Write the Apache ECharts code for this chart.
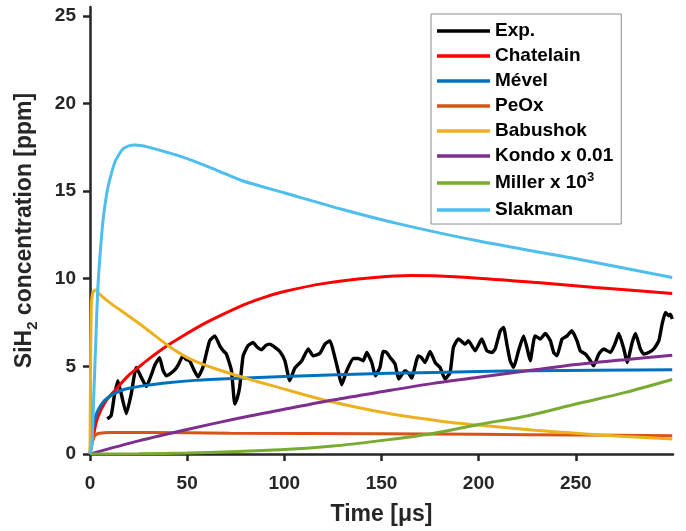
<!DOCTYPE html>
<html>
<head>
<meta charset="utf-8">
<script src="https://cdn.jsdelivr.net/npm/echarts@6/dist/echarts.min.js"></script>
<style>
html,body{margin:0;padding:0;background:#fff;}
#chart{width:686px;height:531px;}
</style>
</head>
<body>
<div id="chart"></div>
<script>
// ---- data (x = time in µs, y = SiH2 concentration in ppm) ----
const seriesNames = ['Exp.', 'Chatelain', 'Mével', 'PeOx', 'Babushok', 'Kondo x 0.01', 'Miller x 10^3', 'Slakman'];
const xTicks = [0, 50, 100, 150, 200, 250];
const yTicks = [0, 5, 10, 15, 20, 25];

const expData = [[8.9,2.0],[10.9,2.2],[12.5,3.3],[14.3,4.18],[16.1,3.42],[18.7,2.3],[21.2,3.42],[23.8,4.94],[26.4,4.37],[29,3.85],
 [31.5,4.5],[33.5,5.1],[35.8,5.5],[37.5,4.8],[39.3,4.46],[41.5,4.6],[43.6,4.8],[45.5,5.1],[47.8,5.6],[49.5,5.4],
 [51.3,5.3],[53.5,4.8],[55.6,4.4],[58.1,4.94],[60,5.8],[61.6,6.46],[64.2,6.74],[66.8,6.17],[68.5,5.9],[70.2,5.7],
 [72.8,4.75],[74.5,2.85],[75.8,3.2],[77,3.8],[78.8,5.6],[81.3,6.17],[83.9,6.36],[86,6.1],[88.2,5.95],[90.5,6.2],
 [92.5,6.27],[95,6.1],[97.7,5.85],[100.3,5.32],[102.8,4.18],[105.4,4.9],[108.9,5.3],[112.3,5.99],[114.8,5.6],[118.3,5.75],
 [120.9,6.27],[123.5,6.46],[126,5.51],[127.7,4.75],[129.5,3.95],[132.1,4.75],[135.5,5.45],[138.1,5.45],[140.6,5.32],[142.4,5.79],
 [145,5.22],[146.8,4.46],[149.2,4.94],[150.9,5.85],[152.5,5.8],[154.4,5.51],[157,5.13],[158.8,4.28],[162.1,4.75],[164,4.6],
 [165.5,4.33],[168.9,5.6],[170.5,5.5],[172.4,5.22],[175,5.85],[177.6,5.22],[180.1,4.94],[182.7,4.28],[185.3,4.65],[187,6.08],
 [189.6,6.56],[193,6.27],[194.7,6.46],[198.2,5.89],[201.6,6.56],[204.2,5.89],[206.8,5.79],[208.5,5.99],[211.1,7.03],[212.8,7.22],
 [214.5,6.27],[216.2,5.32],[218,4.94],[220.5,5.89],[223.1,6.74],[225,6.0],[226.5,5.32],[229,6.74],[231.7,6.56],[234.3,6.88],
 [236.9,6.46],[238.6,5.79],[240.3,5.6],[242.9,6.56],[245.5,6.74],[248,7.03],[250.6,6.46],[252.3,5.89],[254.9,5.7],[257.5,5.32],
 [259.2,5.03],[261.8,5.7],[264.3,5.99],[267.8,5.79],[270.4,6.36],[272.1,6.88],[274.7,5.99],[276.4,5.22],[279,6.36],[280.7,6.88],
 [283.2,5.99],[284.9,5.7],[287.5,5.79],[290.1,5.99],[292.7,6.46],[294.4,7.41],[296.1,8.07],[297.8,7.89],[298.7,7.98],[299.6,7.7]];

const chatelainData = [[0,0],[1,0.6],[2,1.2],[4,2.1],[8,3.0],[12.6,3.6],[20,4.5],[25,4.95],[30,5.4],[41,6.27],[50,6.88],[59,7.45],
 [70,8.05],[80,8.55],[90,8.95],[100,9.27],[120,9.72],[145,10.05],[165,10.18],[190,10.1],[230,9.78],[260,9.5],[299.6,9.16]];

const mevelData = [[0,0],[0.5,0.8],[1.4,1.5],[2.5,2.0],[4,2.47],[7,3.0],[11,3.35],[15,3.58],[20,3.75],[28,3.9],[40,4.07],[54,4.2],
 [80,4.33],[100,4.42],[154,4.6],[200,4.7],[229,4.75],[299.6,4.81]];

const peoxData = [[0,0],[0.5,0.3],[1,0.6],[2,0.95],[3,1.1],[5,1.18],[10,1.22],[30,1.22],[72,1.19],[150,1.15],[200,1.12],[250,1.08],[299.6,1.04]];

const babushokData = [[0,0],[0.3,5],[0.7,8.5],[1.2,9.1],[2,9.3],[3,9.35],[5,9.1],[10,8.65],[19.5,7.9],[28,7.22],[41,6.12],[50,5.5],
 [54,5.3],[63,4.92],[80,4.33],[103,3.61],[122,3.04],[153,2.33],[186,1.8],[200,1.65],[229,1.35],[250,1.18],[275,1.0],[299.6,0.86]];

const kondoData = [[0,0],[25,0.75],[50,1.4],[77,2.05],[100,2.55],[125,3.08],[150,3.55],[175,4.0],[200,4.38],[229,4.8],[250,5.1],[275,5.38],[299.6,5.63]];

const millerData = [[0,0],[25,0.01],[50,0.05],[72,0.13],[100,0.25],[125,0.45],[150,0.77],[175,1.14],[200,1.68],[226,2.2],[250,2.85],[275,3.5],[299.6,4.25]];

const slakmanData = [[0,0],[1,0.6],[2,3.5],[3,6.5],[4,9.4],[5,11.1],[6,12.5],[7,13.6],[9,15.1],[11,16.0],[13,16.7],[15,17.1],[17,17.4],
 [20,17.58],[23,17.63],[27,17.58],[31,17.48],[40,17.2],[50,16.85],[65,16.2],[78,15.6],[100,14.9],[130,13.95],[159,13.13],[200,12.15],[252,11.1],[299.6,10.07]];

const colors = ['#000000', '#FF0000', '#0072BD', '#D95319', '#EDB120', '#7E2F8E', '#77AC30', '#4DBEEE'];
const allData = [expData, chatelainData, mevelData, peoxData, babushokData, kondoData, millerData, slakmanData];

const axisColor = '#262626';
const font = '"Liberation Sans", Arial, Helvetica, sans-serif';

const chart = echarts.init(document.getElementById('chart'), null, {renderer: 'canvas'});

const series = seriesNames.map((name, i) => ({
  name: name,
  type: 'line',
  data: allData[i],
  showSymbol: false,
  symbol: 'none',
  smooth: i === 0 ? 0.15 : 0.3,
  lineStyle: {color: colors[i], width: i === 0 ? 3.4 : 3},
  itemStyle: {color: colors[i]},
  animation: false,
  z: 2 + i
}));

chart.setOption({
  animation: false,
  backgroundColor: '#ffffff',
  grid: {left: 90, right: 13, top: 7, bottom: 77, containLabel: false},
  xAxis: {
    type: 'value',
    min: 0, max: 300,
    name: 'Time [μs]',
    nameLocation: 'middle',
    nameGap: 49,
    nameTextStyle: {fontFamily: font, fontSize: 23, fontWeight: 'bold', color: axisColor},
    axisLine: {show: true, onZero: false, lineStyle: {color: axisColor, width: 2.5}},
    axisTick: {show: true, inside: false, length: 7, lineStyle: {color: axisColor, width: 2.5}, customValues: xTicks},
    axisLabel: {fontFamily: font, fontSize: 19, fontWeight: 'bold', color: axisColor, margin: 20, customValues: xTicks},
    splitLine: {show: false}
  },
  yAxis: {
    type: 'value',
    min: 0, max: 25.5,
    name: '{a|SiH}{s|2}{a| concentration [ppm]}',
    nameLocation: 'middle',
    nameGap: 50,
    nameRotate: 90,
    nameTextStyle: {
      fontFamily: font, fontSize: 23, fontWeight: 'bold', color: axisColor,
      rich: {
        a: {fontFamily: font, fontSize: 23, fontWeight: 'bold', color: axisColor, lineHeight: 30},
        s: {fontFamily: font, fontSize: 15, fontWeight: 'bold', color: axisColor, lineHeight: 15, verticalAlign: 'bottom'}
      }
    },
    axisLine: {show: true, onZero: false, lineStyle: {color: axisColor, width: 2.5}},
    axisTick: {show: true, inside: false, length: 7, lineStyle: {color: axisColor, width: 2.5}, customValues: yTicks},
    axisLabel: {fontFamily: font, fontSize: 19, fontWeight: 'bold', color: axisColor, margin: 14, customValues: yTicks},
    splitLine: {show: false}
  },
  legend: {
    orient: 'vertical',
    left: 431,
    top: 14,
    padding: [7, 8, 4, 6],
    itemGap: 5,
    itemWidth: 53,
    itemHeight: 3.5,
    icon: 'rect',
    backgroundColor: '#ffffff',
    borderColor: '#8c8c8c',
    borderWidth: 1,
    borderRadius: 0,
    data: seriesNames,
    formatter: function (name) {
      if (name === 'Miller x 10^3') return '{m|Miller x 10}{p|3}';
      return name;
    },
    textStyle: {
      fontFamily: font, fontSize: 19, fontWeight: 'bold', color: '#000000', lineHeight: 20, padding: [0, 0, 0, 0],
      rich: {
        m: {fontFamily: font, fontSize: 19, fontWeight: 'bold', color: '#000000', lineHeight: 24},
        p: {fontFamily: font, fontSize: 13, fontWeight: 'bold', color: '#000000', lineHeight: 13, verticalAlign: 'top'}
      }
    }
  },
  series: series
});
</script>
</body>
</html>
